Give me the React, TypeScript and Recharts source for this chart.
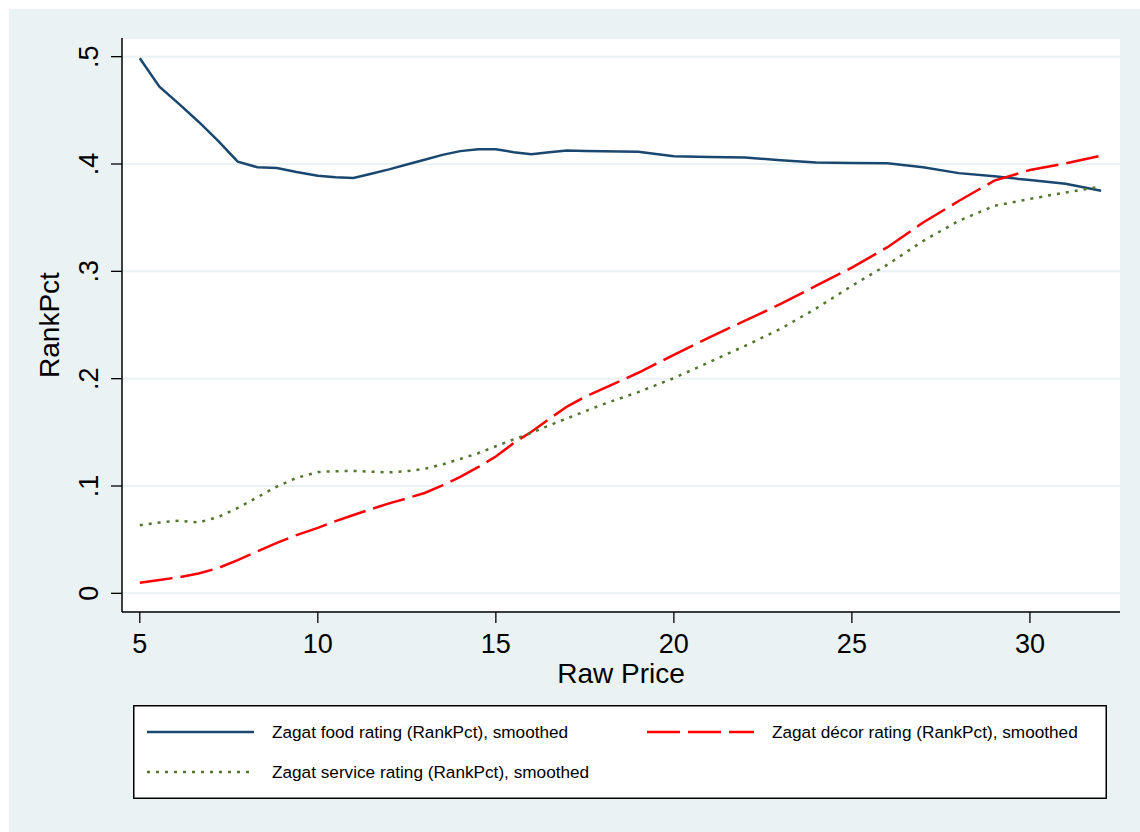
import React from 'react';
import { LineChart, Line, XAxis, YAxis, CartesianGrid, Legend } from 'recharts';

const price = [5, 5.55, 6.1, 6.65, 7.2, 7.75, 8.3, 8.85, 9.4, 10, 10.5, 11, 11.5, 12, 12.5, 13, 13.5, 14, 14.5, 15, 15.5, 16, 16.5, 17, 17.5, 18, 19, 20, 21, 22, 23, 24, 25, 26, 27, 28, 29, 30, 31, 32];

const foodRank = [0.4985, 0.472, 0.456, 0.4394, 0.4215, 0.4022, 0.397, 0.3963, 0.3925, 0.389, 0.3877, 0.387, 0.391, 0.395, 0.3995, 0.404, 0.4085, 0.412, 0.4137, 0.4137, 0.411, 0.409, 0.411, 0.4125, 0.4122, 0.412, 0.4115, 0.4073, 0.4065, 0.406, 0.4035, 0.4015, 0.401, 0.4007, 0.397, 0.3915, 0.3885, 0.385, 0.3815, 0.375];

const decorRank = [0.0099, 0.0125, 0.015, 0.0184, 0.0235, 0.031, 0.039, 0.047, 0.0542, 0.061, 0.0673, 0.073, 0.0785, 0.0838, 0.0885, 0.0935, 0.1005, 0.1085, 0.1175, 0.1275, 0.14, 0.1505, 0.1625, 0.174, 0.183, 0.1905, 0.2055, 0.2222, 0.2385, 0.254, 0.2696, 0.2866, 0.3035, 0.3225, 0.3455, 0.3655, 0.3845, 0.3944, 0.4005, 0.4078];

const serviceRank = [0.0634, 0.066, 0.0676, 0.066, 0.071, 0.0795, 0.0895, 0.0995, 0.1075, 0.113, 0.1138, 0.114, 0.1133, 0.1127, 0.1138, 0.116, 0.12, 0.1252, 0.1305, 0.137, 0.1435, 0.1495, 0.1565, 0.163, 0.1695, 0.176, 0.1875, 0.2005, 0.2155, 0.2305, 0.2465, 0.2655, 0.2865, 0.3063, 0.3283, 0.347, 0.361, 0.3675, 0.3735, 0.379];

const xTicks = [5, 10, 15, 20, 25, 30];
const yTicks = [0, 0.1, 0.2, 0.3, 0.4, 0.5];

const foodName = 'Zagat food rating (RankPct), smoothed';
const decorName = 'Zagat décor rating (RankPct), smoothed';
const serviceName = 'Zagat service rating (RankPct), smoothed';

const data = price.map((p, i) => ({
  price: p,
  food: foodRank[i],
  decor: decorRank[i],
  service: serviceRank[i],
}));

const FONT = '"Liberation Sans", Arial, Helvetica, sans-serif';
const NAVY = '#1a476f';
const RED = '#ff0000';
const GREEN = '#55752f';
const BG = '#eaf2f3';

const fmtY = (v: number) => (v === 0 ? '0' : '.' + Math.round(v * 10));

const XTick = (props: any) => {
  const { x, y, payload } = props;
  return (
    <text x={x} y={y + 28} textAnchor="middle" fontSize={27} fill="#000" fontFamily={FONT}>
      {payload.value}
    </text>
  );
};

const YTick = (props: any) => {
  const { x, y, payload } = props;
  const bx = x - 10.5;
  return (
    <text x={bx} y={y} transform={`rotate(-90, ${bx}, ${y})`} textAnchor="middle" fontSize={27} fill="#000" fontFamily={FONT}>
      {fmtY(payload.value)}
    </text>
  );
};

const YLabel = (props: any) => {
  const vb = props.viewBox;
  const cx = vb.x + 59;
  const cy = vb.y + vb.height / 2;
  return (
    <text x={cx} y={cy} transform={`rotate(-90, ${cx}, ${cy})`} textAnchor="middle" fontSize={28} fill="#000" fontFamily={FONT}>
      RankPct
    </text>
  );
};

const XLabel = (props: any) => {
  const vb = props.viewBox;
  return (
    <text x={vb.x + vb.width / 2} y={vb.y + 71} textAnchor="middle" fontSize={28} fill="#000" fontFamily={FONT}>
      Raw Price
    </text>
  );
};

const LegendBox = () => (
  <svg width={974} height={94} style={{ display: 'block' }}>
    <rect x={0.75} y={0.75} width={972.5} height={92.5} fill="#fff" stroke="#000" strokeWidth={1.5} />
    <line x1={14} x2={121} y1={27} y2={27} stroke={NAVY} strokeWidth={2.5} />
    <text x={139} y={33} fontSize={17.2} fill="#000" fontFamily={FONT}>{foodName}</text>
    <line x1={514} x2={621} y1={27} y2={27} stroke={RED} strokeWidth={2.5} strokeDasharray="33 8" />
    <text x={639} y={33} fontSize={17.2} fill="#000" fontFamily={FONT}>{decorName}</text>
    <line x1={14} x2={121} y1={67} y2={67} stroke={GREEN} strokeWidth={2.5} strokeDasharray="3 6" />
    <text x={139} y={73} fontSize={17.2} fill="#000" fontFamily={FONT}>{serviceName}</text>
  </svg>
);

export default function App() {
  return (
    <div style={{ position: 'fixed', left: 0, top: 0, width: 1140, height: 832, background: '#fff', fontFamily: FONT }}>
      <div style={{ position: 'absolute', left: 9, top: 9, width: 1131, height: 823, background: BG }} />
      <div style={{ position: 'absolute', left: 0, top: 0 }}>
        <LineChart width={1140} height={832} data={data} margin={{ top: 38, right: 20, bottom: 160, left: 0 }}>
          <CartesianGrid vertical={false} stroke={BG} strokeWidth={2} fill="#fff" />
          <XAxis
            dataKey="price"
            type="number"
            domain={[4.5, 32.53]}
            allowDataOverflow
            ticks={xTicks}
            height={60}
            tickSize={11}
            tick={<XTick />}
            tickLine={{ stroke: '#000', strokeWidth: 1.3 }}
            axisLine={{ stroke: '#000', strokeWidth: 1.5 }}
            label={<XLabel />}
          />
          <YAxis
            type="number"
            domain={[-0.0174, 0.5174]}
            allowDataOverflow
            ticks={yTicks}
            width={122}
            tickSize={11}
            tick={<YTick />}
            tickLine={{ stroke: '#000', strokeWidth: 1.3 }}
            axisLine={{ stroke: '#000', strokeWidth: 1.5 }}
            label={<YLabel />}
          />
          <Legend
            layout="horizontal"
            verticalAlign="middle"
            content={<LegendBox />}
            wrapperStyle={{ position: 'absolute', left: 133, top: 705, width: 974, height: 94 }}
          />
          <Line name={foodName} dataKey="food" type="linear" stroke={NAVY} strokeWidth={2.5} dot={false} isAnimationActive={false} />
          <Line name={decorName} dataKey="decor" type="linear" stroke={RED} strokeWidth={2.5} strokeDasharray="33 8" dot={false} isAnimationActive={false} />
          <Line name={serviceName} dataKey="service" type="linear" stroke={GREEN} strokeWidth={2.5} strokeDasharray="3 6" dot={false} isAnimationActive={false} />
        </LineChart>
      </div>
    </div>
  );
}
